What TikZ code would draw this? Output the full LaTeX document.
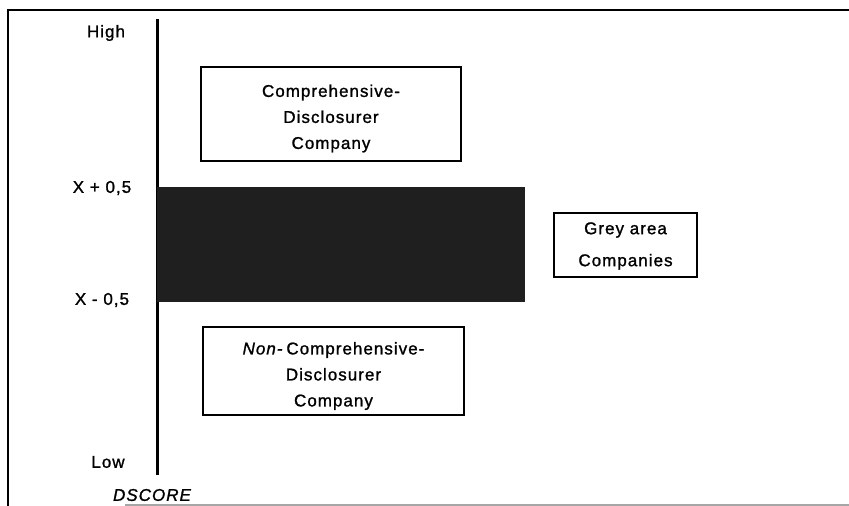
\documentclass[tikz,border=0pt]{standalone}
\usepackage{fontspec}
\setmainfont{Liberation Sans}[LetterSpace=6,FakeBold=1.2]
\begin{document}
\begin{tikzpicture}[x=1pt,y=-1pt,
  txt/.style={font=\fontsize{17}{26}\selectfont, inner sep=0pt, align=center},
  frame/.style={draw, line width=2pt, minimum width=#1, inner sep=0pt},
  axisline/.style={line width=3pt},
  borderline/.style={line width=2pt}]
\useasboundingbox (0,0) rectangle (849,506);
% outer frame
\coordinate (tl) at (8,10);
\coordinate (tr) at (849,10);
\coordinate (bl) at (8,506);
\coordinate (bstart) at (125,505);
\coordinate (bend) at (849,505);
\draw[borderline] (tr) -- (tl) -- (bl);
\draw[line width=1.2pt, black!35] (bstart) -- (bend);
% axis
\coordinate (atop) at (157,19);
\coordinate (abot) at (157,475);
\draw[axisline] (atop) -- (abot);
% grey band
\node[fill=black!88, inner sep=0pt, minimum width=368pt, minimum height=115pt] (band) at (341,244.5) {};
% boxes
\node[frame=260pt, minimum height=94pt] (compbox) at (331,114) {};
\node[txt] (comptxt) at (331,118.5) {Comprehensive-\\Disclosurer\\Company};
\node[frame=143pt, minimum height=64pt] (greybox) at (625.5,245) {};
\node[txt, font=\fontsize{17}{32}\selectfont] (greytxt) at (625.5,246) {Grey area\\Companies};
\node[frame=261pt, minimum height=88pt] (nonbox) at (333.5,371) {};
\node[txt] (nontxt) at (333.5,376) {\textit{Non-}\,Comprehensive-\\Disclosurer\\Company};
% axis labels
\node[txt] (high) at (106,33) {High};
\node[txt] (xplus) at (102,188) {X + 0,5};
\node[txt] (xminus) at (102,300) {X - 0,5};
\node[txt] (low) at (108,462) {Low};
\node[txt, font=\fontsize{17}{26}\selectfont\itshape] (dscore) at (152,495) {DSCORE};
\end{tikzpicture}
\end{document}
